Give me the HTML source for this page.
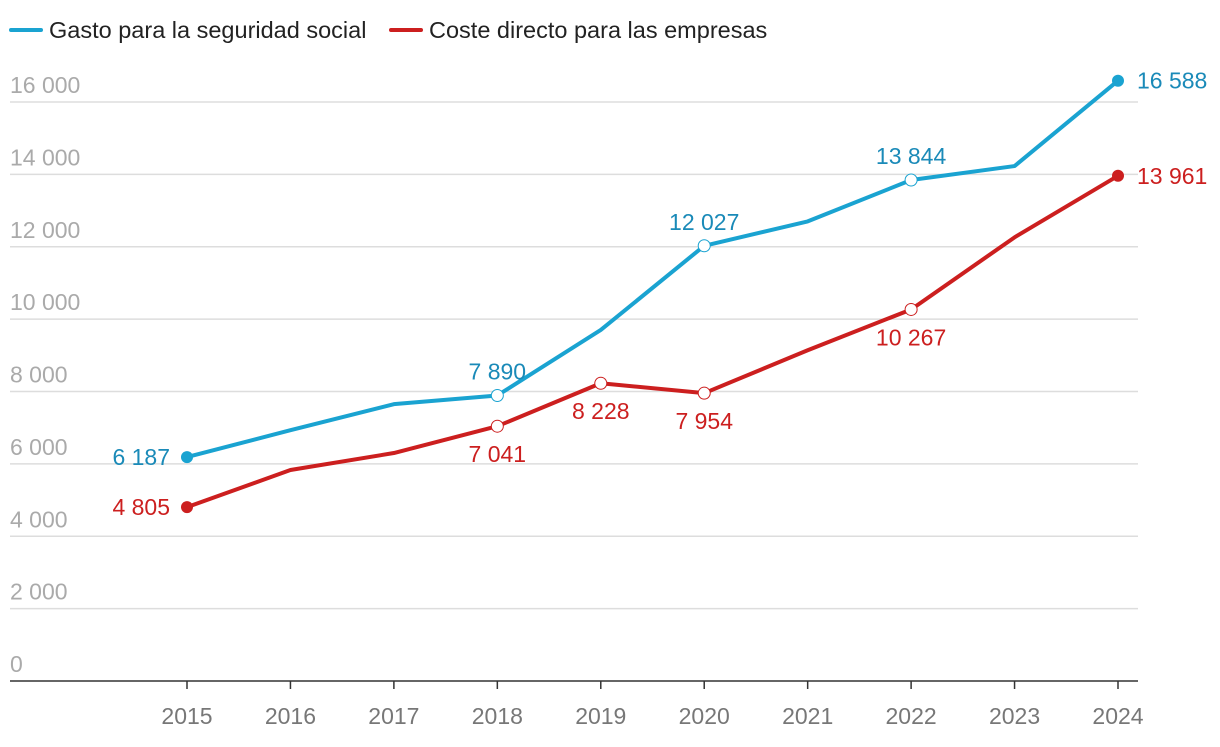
<!DOCTYPE html>
<html><head><meta charset="utf-8"><style>
body{margin:0;background:#fff;font-family:"Liberation Sans",sans-serif}
svg text{font-family:"Liberation Sans",sans-serif}
</style></head><body>
<svg id="chart" width="1220" height="742" viewBox="0 0 1220 742" xmlns="http://www.w3.org/2000/svg">
<g>
<line x1="11" y1="30" x2="41" y2="30" stroke="#1aa3d1" stroke-width="4" stroke-linecap="round"/>
<text x="49" y="38" font-size="23.5" fill="#222">Gasto para la seguridad social</text>
<line x1="391" y1="30" x2="421" y2="30" stroke="#cc1f1f" stroke-width="4" stroke-linecap="round"/>
<text x="429" y="38" font-size="23.5" fill="#222">Coste directo para las empresas</text>
</g>
<g id="grid"></g><g id="xaxis"></g><g id="series"></g><g id="labels"></g>
</svg>
<script>
const years=[2015,2016,2017,2018,2019,2020,2021,2022,2023,2024];
const gasto=[6187,6930,7650,7890,9700,12027,12700,13844,14230,16588];
const coste=[4805,5830,6300,7041,8228,7954,9140,10267,12260,13961];
const yTicks=[0,2000,4000,6000,8000,10000,12000,14000,16000];
const gastoLabeled=[0,3,5,7,9];
const costeLabeled=[0,3,4,5,7,9];
const NS="http://www.w3.org/2000/svg";
const x=i=>187+i*(1118-187)/9;
const y=v=>681-v*(681-102)/16000;
const fmt=v=>String(v).replace(/\B(?=(\d{3})+(?!\d))/g," ");
function mk(tag,attrs,parent,txt){const e=document.createElementNS(NS,tag);for(const k in attrs)e.setAttribute(k,attrs[k]);if(txt!==undefined)e.textContent=txt;document.getElementById(parent).appendChild(e);return e;}
yTicks.forEach(t=>{
 if(t>0){const l=mk('line',{x1:10,x2:1138,y1:y(t),y2:y(t),stroke:'#ddd','stroke-width':1.5},'grid');
 
 }
 const tx=mk('text',{x:10,y:y(t)-9,'font-size':23,fill:'#aaa'},'grid',fmt(t));
 
 
});
const ax=mk('line',{x1:10,x2:1138,y1:681,y2:681,stroke:'#333','stroke-width':1.5},'xaxis');


years.forEach((yr,i)=>{
 mk('line',{x1:x(i),x2:x(i),y1:681,y2:689,stroke:'#333','stroke-width':1.5},'xaxis');
 const t=mk('text',{x:x(i),y:724,'font-size':23,fill:'#777','text-anchor':'middle'},'xaxis',yr);
 
 
});
function series(vals,color,lblColor,labeled,name,above){
 const p=mk('polyline',{points:vals.map((v,i)=>x(i)+','+y(v)).join(' '),fill:'none',stroke:color,'stroke-width':4,'stroke-linejoin':'round'},'series');
 
 
 labeled.forEach(i=>{
  const end=(i===0||i===vals.length-1);
  const c=mk('circle',{cx:x(i),cy:y(vals[i]),r:6,fill:end?color:'#fff',stroke:color,'stroke-width':end?0:1},'series');
  
  
  let a={fill:lblColor,'font-size':23};
  if(i===0){a.x=x(i)-17;a.y=y(vals[i])+8;a['text-anchor']='end';}
  else if(i===vals.length-1){a.x=x(i)+19;a.y=y(vals[i])+8;a['text-anchor']='start';}
  else{a.x=x(i);a['text-anchor']='middle';a.y=above?y(vals[i])-16:y(vals[i])+36;}
  const t=mk('text',a,'labels',fmt(vals[i]));
  
  
 });
}
series(gasto,'#1aa3d1','#1a8ab8',gastoLabeled,'gasto',true);
series(coste,'#cc1f1f','#cc1f1f',costeLabeled,'coste',false);
</script>
</body></html>
